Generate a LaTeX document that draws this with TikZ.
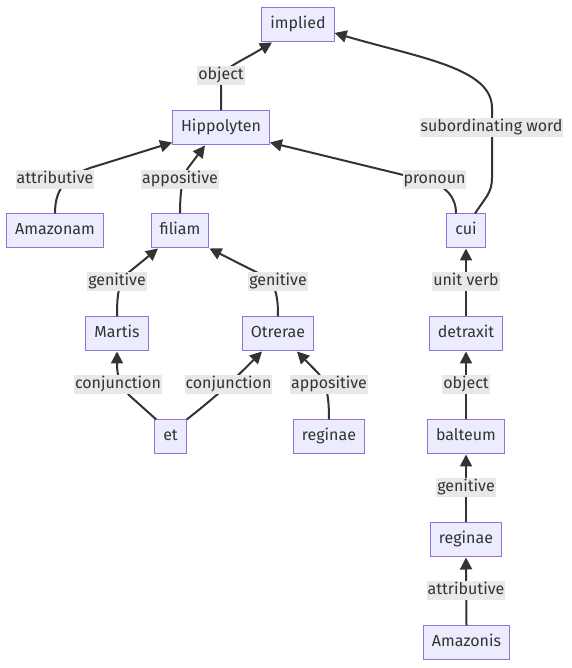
\documentclass[tikz,border=0pt]{standalone}
\usepackage{fontspec}
\setmainfont{Fira Sans}
\usepackage{tikz}
\usetikzlibrary{arrows.meta}
\definecolor{boxfill}{HTML}{ECECFF}
\definecolor{boxline}{HTML}{9370DB}
\definecolor{ink}{HTML}{333333}
\definecolor{lblfill}{HTML}{E8E8E8}

\begin{document}
\begin{tikzpicture}[x=1pt,y=1pt,
    word/.style={draw=boxline, fill=boxfill, line width=1pt, minimum height=34pt,
      inner xsep=8.5pt, text height=12pt, text depth=4pt, text=ink,
      font=\fontsize{16}{19}\selectfont},
    rel/.style={fill=lblfill, inner xsep=1pt, inner ysep=1.5pt, text height=12pt,
      text depth=4pt, text=ink, font=\fontsize{16}{19}\selectfont},
    edge/.style={draw=ink, line width=2pt, -{Triangle[length=12pt,width=12pt]}}]
      \useasboundingbox (0,0) rectangle (571,668);
      \node[word, name=implied] at (298,643) {implied};
      \node[word, name=hip] at (221,540) {Hippolyten};
      \node[word, name=amazonam] at (55,437) {Amazonam};
      \node[word, name=filiam] at (180,437) {filiam};
      \node[word, name=cui] at (466,437) {cui};
      \node[word, name=martis] at (117,334) {Martis};
      \node[word, name=otrerae] at (278,334) {Otrerae};
      \node[word, name=detraxit] at (466,334) {detraxit};
      \node[word, name=et] at (170.5,231) {et};
      \node[word, name=reginaeA] at (329,231) {reginae};
      \node[word, name=balteum] at (466,231) {balteum};
      \node[word, name=reginaeB] at (466,128) {reginae};
      \node[word, name=amazonis] at (466.5,25) {Amazonis};

      \draw[edge] (hip.north) -- (221,585) .. controls (221,600) and (235,603) .. ([xshift=-26pt]implied.south);
      \draw[edge] ([xshift=9pt]cui.north) .. controls (485,470) and (492,475) .. (492,490) -- (492,560)
        .. controls (492,600) and (420,610) .. ([yshift=-8pt]implied.east);
      \draw[edge] ([xshift=-10pt]cui.north) .. controls (456,472) and (445,482) .. (428,487) -- ([yshift=3pt]hip.south east);
      \draw[edge] (amazonam.north) .. controls (55,475) and (62,490) .. (90,500) -- ([yshift=3pt]hip.south west);
      \draw[edge] (filiam.north) .. controls (180,475) and (182,490) .. (188,500) -- ([xshift=-16pt]hip.south);
      \draw[edge] (martis.north) .. controls (117,372) and (118,385) .. (128,395) -- ([xshift=-22pt]filiam.south);
      \draw[edge] (otrerae.north) .. controls (278,372) and (276,385) .. (262,393) -- (filiam.south east);
      \draw[edge] ([xshift=2pt]et.north west) -- (130,272) .. controls (118,285) and (117,295) .. (martis.south);
      \draw[edge] (et.north east) to[out=38,in=-135] ([xshift=-16pt]otrerae.south);
      \draw[edge] (reginaeA.north) .. controls (329,270) and (327,285) .. (318,295) -- ([xshift=19pt]otrerae.south);
      \draw[edge] (detraxit.north) -- (cui.south);
      \draw[edge] (balteum.north) -- (detraxit.south);
      \draw[edge] (reginaeB.north) -- (balteum.south);
      \draw[edge] (amazonis.north) -- (reginaeB.south);

      \node[rel, name=r1] at (221,592) {object};
      \node[rel, name=r2] at (491.5,540) {subordinating word};
      \node[rel, name=r3] at (55,488) {attributive};
      \node[rel, name=r4] at (180,488) {appositive};
      \node[rel, name=r5] at (434.5,488) {pronoun};
      \node[rel, name=r6] at (117,386) {genitive};
      \node[rel, name=r7] at (278,386) {genitive};
      \node[rel, name=r8] at (466,386) {unit verb};
      \node[rel, name=r9] at (118,283) {conjunction};
      \node[rel, name=r10] at (228.5,283) {conjunction};
      \node[rel, name=r11] at (329,283) {appositive};
      \node[rel, name=r12] at (466,283) {object};
      \node[rel, name=r13] at (466,180) {genitive};
      \node[rel, name=r14] at (466,77) {attributive};
   \end{tikzpicture}
\end{document}
